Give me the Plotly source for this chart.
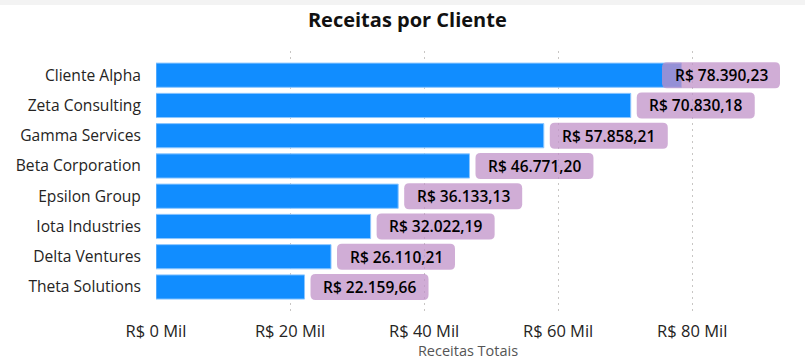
import plotly.graph_objects as go

# ---- data ----
clientes = ["Cliente Alpha", "Zeta Consulting", "Gamma Services", "Beta Corporation",
            "Epsilon Group", "Iota Industries", "Delta Ventures", "Theta Solutions"]
receitas = [78390.23, 70830.18, 57858.21, 46771.20, 36133.13, 32022.19, 26110.21, 22159.66]
tick_vals = [0, 20000, 40000, 60000, 80000]
tick_text = ["R$ 0 Mil", "R$ 20 Mil", "R$ 40 Mil", "R$ 60 Mil", "R$ 80 Mil"]

# ---- layout constants ----
W, H = 805, 360
ML, MR, MT, MB = 156, 25, 51, 47
XMAX = 93100
FONT = "Open Sans, Noto Sans, sans-serif"
BAR_COLOR = "#118DFF"
BOX_COLOR = "rgba(192,145,200,0.75)"
BOX_W, BOX_H, RAD, GAP = 118, 26, 5, 6

plot_w = W - ML - MR
px_per_unit = plot_w / XMAX


def brl(v):
    s = f"{v:,.2f}".replace(",", "X").replace(".", ",").replace("X", ".")
    return "R$ " + s


def rounded_path(x0, x1, y0, y1, r):
    return (f"M {x0 + r},{y0} L {x1 - r},{y0} Q {x1},{y0} {x1},{y0 + r} "
            f"L {x1},{y1 - r} Q {x1},{y1} {x1 - r},{y1} L {x0 + r},{y1} "
            f"Q {x0},{y1} {x0},{y1 - r} L {x0},{y0 + r} Q {x0},{y0} {x0 + r},{y0} Z")


fig = go.Figure()
fig.add_trace(go.Bar(
    x=receitas, y=clientes, orientation="h",
    marker=dict(color=BAR_COLOR, line=dict(color="#8cc6ff", width=1)),
    hoverinfo="skip",
))

shapes = []
annotations = []
for i, (c, v) in enumerate(zip(clientes, receitas)):
    end_px = v * px_per_unit
    if end_px + GAP + BOX_W > plot_w:
        anchor = XMAX
        x0, x1 = -BOX_W, 0
    else:
        anchor = v
        x0, x1 = GAP, GAP + BOX_W
    shapes.append(dict(
        type="path", xref="x", yref="y",
        xsizemode="pixel", ysizemode="pixel",
        xanchor=anchor, yanchor=i,
        path=rounded_path(x0, x1, -BOX_H / 2, BOX_H / 2, RAD),
        fillcolor=BOX_COLOR, line=dict(width=0), layer="above",
    ))
    annotations.append(dict(
        x=anchor, y=c, xref="x", yref="y",
        text=brl(v), showarrow=False,
        xanchor="center", yanchor="middle",
        xshift=(x0 + x1) / 2, yshift=0,
        font=dict(family=FONT, size=15.5, color="#000000", weight=600),
    ))

# light grey strip at top of the page
shapes.append(dict(
    type="rect", xref="paper", yref="paper",
    xsizemode="pixel", ysizemode="pixel", xanchor=0, yanchor=1,
    x0=-ML, x1=W - ML, y0=MT - 5, y1=MT,
    fillcolor="#f3f3f3", line=dict(width=0), layer="below",
))

fig.update_layout(
    width=W, height=H,
    margin=dict(l=ML, r=MR, t=MT, b=MB),
    paper_bgcolor="white", plot_bgcolor="white",
    title=dict(text="<b>Receitas por Cliente</b>", x=0.506, xanchor="center",
               y=1 - 20 / H, yanchor="middle",
               font=dict(family=FONT, size=20, color="#111111")),
    showlegend=False,
    bargap=0.2,
    shapes=shapes,
    annotations=annotations,
    font=dict(family=FONT),
)
fig.update_xaxes(
    range=[0, XMAX], tickvals=tick_vals, ticktext=tick_text,
    showgrid=True, gridcolor="#c8c6c4", griddash="2px,4px", gridwidth=1,
    zeroline=False, showline=False, automargin=False,
    ticks="outside", ticklen=3, tickcolor="rgba(0,0,0,0)",
    tickfont=dict(family=FONT, size=16.5, color="#252423"),
    title=dict(text="Receitas Totais", standoff=1,
               font=dict(family=FONT, size=14.5, color="#555555")),
    fixedrange=True,
)
fig.update_yaxes(
    categoryorder="array", categoryarray=clientes,
    range=[len(clientes) - 1 + 0.86, -0.80],
    showgrid=False, zeroline=False, showline=False, automargin=False,
    ticks="outside", ticklen=11, tickcolor="rgba(0,0,0,0)",
    tickfont=dict(family=FONT, size=15.6, color="#252423"),
    fixedrange=True,
)

fig.write_html("out.html", config={"displayModeBar": False},
               post_script="document.body.style.margin='0';")
